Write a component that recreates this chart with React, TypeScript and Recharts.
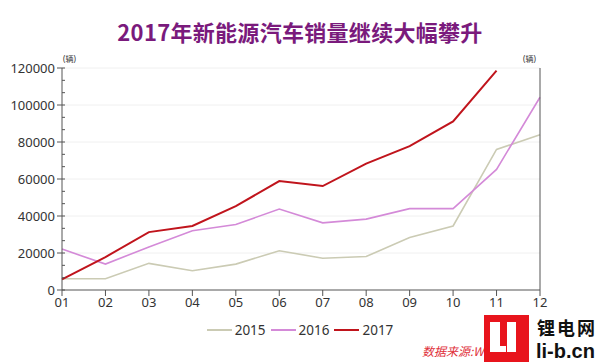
import { LineChart, Line, XAxis, YAxis, ReferenceLine } from 'recharts';

const MONTHS = ['01', '02', '03', '04', '05', '06', '07', '08', '09', '10', '11', '12'];
const SALES_2015 = [6100, 6100, 14400, 10400, 14000, 21200, 17200, 18100, 28400, 34600, 76000, 83900];
const SALES_2016 = [22100, 14000, 23300, 32000, 35400, 43800, 36300, 38300, 44000, 44000, 65200, 104200];
const SALES_2017 = [5700, 17800, 31300, 34600, 45300, 58900, 56200, 68300, 77800, 91100, 118600, null];
const MAJOR_TICKS = [0, 20000, 40000, 60000, 80000, 100000, 120000];

const SERIES = [
  { key: 'y2015', name: '2015', color: '#cbcbb4', width: 1.6 },
  { key: 'y2016', name: '2016', color: '#d48ad8', width: 1.6 },
  { key: 'y2017', name: '2017', color: '#c0141c', width: 2 },
];

const data = MONTHS.map((month, i) => ({
  month,
  y2015: SALES_2015[i],
  y2016: SALES_2016[i],
  y2017: SALES_2017[i],
}));

// 2 minor ticks between each labelled one
const allTicks: number[] = [];
MAJOR_TICKS.forEach((t, i) => {
  allTicks.push(t);
  if (i < MAJOR_TICKS.length - 1) {
    const step = (MAJOR_TICKS[i + 1] - t) / 3;
    allTicks.push(t + step, t + 2 * step);
  }
});

const FONT = '"Noto Sans", "Noto Sans CJK SC", sans-serif';
const AXIS_COLOR = '#555';

function YTick(props: any) {
  const { x, y, payload, orientation } = props;
  const left = orientation === 'left';
  const axisX = left ? x + 7 : x - 7;
  const isMajor = MAJOR_TICKS.includes(payload.value);
  const dir = left ? -1 : 1;
  return (
    <g>
      {isMajor ? (
        <line x1={axisX - 3 * dir} x2={axisX + 5 * dir} y1={y} y2={y} stroke={AXIS_COLOR} strokeWidth={1} />
      ) : (
        <line x1={axisX} x2={axisX - 3 * dir} y1={y} y2={y} stroke={AXIS_COLOR} strokeWidth={1} />
      )}
      {isMajor && (
        <text
          x={axisX + 7 * dir}
          y={y}
          dy={5}
          textAnchor={left ? 'end' : 'start'}
          fontSize={13}
          fill="#333"
          fontFamily={FONT}
        >
          {payload.value}
        </text>
      )}
    </g>
  );
}

function ChartLegend() {
  return (
    <div
      style={{
        position: 'absolute',
        top: 320,
        left: 0,
        width: 600,
        display: 'flex',
        justifyContent: 'center',
        gap: 5,
        fontFamily: FONT,
        fontSize: 13.5,
        color: '#333',
        lineHeight: '20px',
      }}
    >
      {SERIES.map((s) => (
        <div key={s.key} style={{ display: 'flex', alignItems: 'center', gap: 3 }}>
          <div style={{ width: 25, height: s.width + 0.4, background: s.color }} />
          {s.name}
        </div>
      ))}
    </div>
  );
}

export default function App() {
  return (
    <div style={{ position: 'absolute', left: 0, top: 0, width: 600, height: 362, background: '#fff', overflow: 'hidden' }}>
      <div
        style={{
          position: 'absolute',
          top: 16,
          width: 600,
          textAlign: 'center',
          fontFamily: '"Noto Sans CJK SC", sans-serif',
          fontWeight: 700,
          fontSize: 22,
          lineHeight: '30px',
          color: '#7a1a7c',
          letterSpacing: 0.3,
        }}
      >
        2017年新能源汽车销量继续大幅攀升
      </div>
      <div style={{ position: 'absolute', left: 63, top: 53, fontSize: 8, fontFamily: FONT, color: '#333' }}>(辆)</div>
      <div style={{ position: 'absolute', left: 523, top: 53, fontSize: 8, fontFamily: FONT, color: '#333' }}>(辆)</div>
      <LineChart width={600} height={362} data={data} margin={{ top: 68, right: 0, bottom: 46, left: 0 }}>
        {MAJOR_TICKS.slice(1).map((v) => (
          <ReferenceLine key={v} y={v} yAxisId="left" stroke="#f0f0f0" strokeWidth={1} />
        ))}
        <XAxis
          dataKey="month"
          tickSize={6}
          tickMargin={2}
          tick={{ fontSize: 13, fill: '#333', fontFamily: FONT }}
          stroke={AXIS_COLOR}
          height={26}
          interval={0}
        />
        <YAxis
          yAxisId="left"
          orientation="left"
          width={62}
          domain={[0, 120000]}
          ticks={allTicks}
          interval={0}
          tickSize={5}
          tickMargin={2}
          tickLine={false}
          tick={YTick}
          stroke={AXIS_COLOR}
        />
        <YAxis
          yAxisId="right"
          orientation="right"
          width={60}
          domain={[0, 120000]}
          ticks={allTicks}
          interval={0}
          tickSize={5}
          tickMargin={2}
          tickLine={false}
          tick={YTick}
          stroke={AXIS_COLOR}
        />
        {SERIES.map((s) => (
          <Line
            key={s.key}
            yAxisId="left"
            type="linear"
            dataKey={s.key}
            name={s.name}
            stroke={s.color}
            strokeWidth={s.width}
            dot={false}
            activeDot={false}
            isAnimationActive={false}
          />
        ))}
      </LineChart>
      <ChartLegend />
      <div
        style={{
          position: 'absolute',
          left: 422,
          top: 343,
          fontSize: 12,
          lineHeight: '16px',
          fontStyle: 'italic',
          color: '#e0303a',
          fontFamily: '"Noto Sans CJK SC", sans-serif',
          whiteSpace: 'nowrap',
        }}
      >
        数据来源:Wind资讯
      </div>
      <div style={{ position: 'absolute', left: 484, top: 315, width: 45, height: 47, background: '#e8141c' }}>
        <div style={{ position: 'absolute', left: 6, top: 7, width: 10, height: 30, background: '#fff' }} />
        <div style={{ position: 'absolute', left: 6, top: 31, width: 16, height: 6, background: '#fff' }} />
        <div style={{ position: 'absolute', left: 23, top: 7, width: 9, height: 30, background: '#fff' }} />
      </div>
      <div
        style={{
          position: 'absolute',
          left: 537,
          top: 316,
          fontSize: 18,
          lineHeight: '22px',
          fontWeight: 700,
          letterSpacing: 2,
          color: '#111',
          fontFamily: '"Noto Sans CJK SC", sans-serif',
          whiteSpace: 'nowrap',
        }}
      >
        锂电网
      </div>
      <div
        style={{
          position: 'absolute',
          left: 536,
          top: 340,
          fontSize: 20,
          fontWeight: 700,
          color: '#111',
          fontFamily: '"Liberation Sans", sans-serif',
          whiteSpace: 'nowrap',
          lineHeight: '22px',
        }}
      >
        li-b.cn
      </div>
    </div>
  );
}
